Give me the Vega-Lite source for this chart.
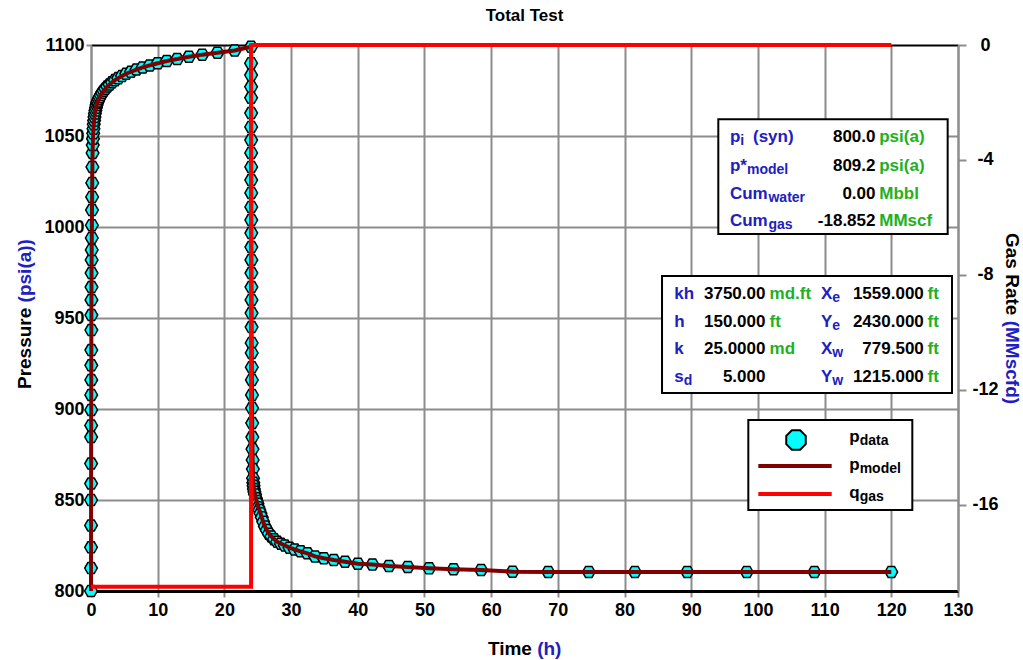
{
  "$schema": "https://vega.github.io/schema/vega-lite/v6.json",
  "width": 867,
  "height": 546,
  "autosize": {"type": "none"},
  "padding": {"left": 91, "top": 45, "right": 65, "bottom": 69},
  "background": "white",
  "title": {"text": "Total Test", "fontSize": 17, "font": "Liberation Sans", "fontWeight": "bold", "color": "black", "anchor": "middle", "frame": "group", "offset": 11},
  "config": {"font": "Liberation Sans", "view": {"stroke": null}},
  "datasets": {
    "pressure": [
      {"t": 0, "p": 800}, {"t": 0.003, "p": 812.6}, {"t": 0.006, "p": 824}, {"t": 0.009, "p": 836}, {"t": 0.012, "p": 850},
      {"t": 0.015, "p": 859}, {"t": 0.018, "p": 870}, {"t": 0.022, "p": 884.6}, {"t": 0.026, "p": 891}, {"t": 0.03, "p": 899.5},
      {"t": 0.034, "p": 907.7}, {"t": 0.038, "p": 916}, {"t": 0.043, "p": 924}, {"t": 0.048, "p": 932.4}, {"t": 0.054, "p": 943.4},
      {"t": 0.06, "p": 951.6}, {"t": 0.067, "p": 959.9}, {"t": 0.075, "p": 967}, {"t": 0.084, "p": 974.7}, {"t": 0.094, "p": 981.9},
      {"t": 0.105, "p": 987.4}, {"t": 0.118, "p": 994}, {"t": 0.132, "p": 1001}, {"t": 0.148, "p": 1009.3}, {"t": 0.166, "p": 1016.5},
      {"t": 0.186, "p": 1024.2}, {"t": 0.21, "p": 1033}, {"t": 0.235, "p": 1040.7}, {"t": 0.263, "p": 1045}, {"t": 0.295, "p": 1048.5},
      {"t": 0.33, "p": 1051.5}, {"t": 0.37, "p": 1054}, {"t": 0.415, "p": 1056.5}, {"t": 0.465, "p": 1058.5}, {"t": 0.52, "p": 1060.5},
      {"t": 0.585, "p": 1062.3}, {"t": 0.66, "p": 1064}, {"t": 0.74, "p": 1065.5}, {"t": 0.83, "p": 1067}, {"t": 0.93, "p": 1068.3},
      {"t": 1, "p": 1069}, {"t": 1.136, "p": 1070.2}, {"t": 1.29, "p": 1071.3}, {"t": 1.468, "p": 1072.5}, {"t": 1.668, "p": 1073.7},
      {"t": 1.896, "p": 1074.8}, {"t": 2.154, "p": 1076}, {"t": 2.448, "p": 1077.2}, {"t": 2.783, "p": 1078.3}, {"t": 3.162, "p": 1079.5},
      {"t": 3.594, "p": 1080.7}, {"t": 4.084, "p": 1081.8}, {"t": 4.642, "p": 1083}, {"t": 5.275, "p": 1084.2}, {"t": 5.995, "p": 1085.3},
      {"t": 6.813, "p": 1086.5}, {"t": 7.743, "p": 1087.7}, {"t": 8.799, "p": 1088.8}, {"t": 10, "p": 1090}, {"t": 11.36, "p": 1091.2},
      {"t": 12.92, "p": 1092.3}, {"t": 14.68, "p": 1093.5}, {"t": 16.68, "p": 1094.7}, {"t": 18.96, "p": 1095.8}, {"t": 21.54, "p": 1097},
      {"t": 24, "p": 1099},
      {"t": 24.002, "p": 1090}, {"t": 24.004, "p": 1083.5}, {"t": 24.006, "p": 1077}, {"t": 24.008, "p": 1071}, {"t": 24.01, "p": 1062.6},
      {"t": 24.012, "p": 1055}, {"t": 24.014, "p": 1047.8}, {"t": 24.016, "p": 1040.7}, {"t": 24.019, "p": 1033}, {"t": 24.022, "p": 1025.8},
      {"t": 24.025, "p": 1018.7}, {"t": 24.028, "p": 1011}, {"t": 24.032, "p": 1003.8}, {"t": 24.036, "p": 996.7}, {"t": 24.04, "p": 989},
      {"t": 24.045, "p": 981.9}, {"t": 24.05, "p": 974.7}, {"t": 24.056, "p": 967}, {"t": 24.063, "p": 959.9}, {"t": 24.07, "p": 952.7},
      {"t": 24.078, "p": 945}, {"t": 24.087, "p": 936.3}, {"t": 24.097, "p": 930.8}, {"t": 24.108, "p": 923}, {"t": 24.121, "p": 916},
      {"t": 24.135, "p": 907.7}, {"t": 24.151, "p": 900.5}, {"t": 24.169, "p": 892.3}, {"t": 24.189, "p": 884.6}, {"t": 24.212, "p": 878},
      {"t": 24.237, "p": 872}, {"t": 24.266, "p": 867}, {"t": 24.298, "p": 862}, {"t": 24.335, "p": 859.5}, {"t": 24.375, "p": 857.8},
      {"t": 24.42, "p": 856}, {"t": 24.5, "p": 854.5}, {"t": 24.6, "p": 853}, {"t": 24.72, "p": 851}, {"t": 24.84, "p": 849.5},
      {"t": 24.96, "p": 848}, {"t": 25.09, "p": 846}, {"t": 25.24, "p": 844.5}, {"t": 25.41, "p": 842.7}, {"t": 25.6, "p": 840.5},
      {"t": 25.82, "p": 838}, {"t": 26.07, "p": 835.5}, {"t": 26.35, "p": 833.5}, {"t": 26.67, "p": 831.5}, {"t": 27.04, "p": 830},
      {"t": 27.45, "p": 828.5}, {"t": 27.92, "p": 827}, {"t": 28.46, "p": 826}, {"t": 29.06, "p": 825}, {"t": 29.76, "p": 823.8},
      {"t": 30.54, "p": 822.8}, {"t": 31.43, "p": 821.8}, {"t": 32.45, "p": 820.7}, {"t": 33.6, "p": 819}, {"t": 34.91, "p": 818},
      {"t": 36.4, "p": 817}, {"t": 38.09, "p": 816.1}, {"t": 40.01, "p": 815}, {"t": 42.2, "p": 814.6}, {"t": 44.68, "p": 813.8},
      {"t": 47.5, "p": 813.2}, {"t": 50.71, "p": 812.5}, {"t": 54.36, "p": 812}, {"t": 58.5, "p": 811.6}, {"t": 63.21, "p": 810.6},
      {"t": 68.56, "p": 810.5}, {"t": 74.64, "p": 810.5}, {"t": 81.55, "p": 810.5}, {"t": 89.4, "p": 810.5}, {"t": 98.33, "p": 810.5},
      {"t": 108.47, "p": 810.5}, {"t": 120, "p": 810.5}
    ],
    "rate": [
      {"t": 0, "rate": -18.852}, {"t": 24, "rate": -18.852}, {"t": 24, "rate": 0}, {"t": 120, "rate": 0}
    ],
    "notes": [
      {"txt": "p", "t": 95.8, "p": 1049.18, "kind": "lab"},
      {"txt": "i", "t": 97.36, "p": 1049.18, "kind": "labsub"},
      {"txt": "(syn)", "t": 99.26, "p": 1049.18, "kind": "lab"},
      {"txt": "800.0", "t": 117.63, "p": 1049.18, "kind": "val"},
      {"txt": "psi(a)", "t": 118.19, "p": 1049.18, "kind": "unit"},
      {"txt": "p*", "t": 95.8, "p": 1033.63, "kind": "lab"},
      {"txt": "model", "t": 98.36, "p": 1033.63, "kind": "labsub"},
      {"txt": "809.2", "t": 117.63, "p": 1033.63, "kind": "val"},
      {"txt": "psi(a)", "t": 118.19, "p": 1033.63, "kind": "unit"},
      {"txt": "Cum", "t": 95.8, "p": 1018.24, "kind": "lab"},
      {"txt": "water", "t": 101.58, "p": 1018.24, "kind": "labsub"},
      {"txt": "0.00", "t": 117.63, "p": 1018.24, "kind": "val"},
      {"txt": "Mbbl", "t": 118.19, "p": 1018.24, "kind": "unit"},
      {"txt": "Cum", "t": 95.8, "p": 1003.41, "kind": "lab"},
      {"txt": "gas", "t": 101.58, "p": 1003.41, "kind": "labsub"},
      {"txt": "-18.852", "t": 117.63, "p": 1003.41, "kind": "val"},
      {"txt": "MMscf", "t": 118.19, "p": 1003.41, "kind": "unit"},
      {"txt": "kh", "t": 87.46, "p": 963.08, "kind": "lab"},
      {"txt": "3750.00", "t": 101.13, "p": 963.08, "kind": "val"},
      {"txt": "md.ft", "t": 101.74, "p": 963.08, "kind": "unit"},
      {"txt": "X", "t": 109.45, "p": 963.08, "kind": "lab"},
      {"txt": "e", "t": 111.15, "p": 963.08, "kind": "labsub"},
      {"txt": "1559.000", "t": 124.87, "p": 963.08, "kind": "val"},
      {"txt": "ft", "t": 125.44, "p": 963.08, "kind": "unit"},
      {"txt": "h", "t": 87.46, "p": 947.97, "kind": "lab"},
      {"txt": "150.000", "t": 101.13, "p": 947.97, "kind": "val"},
      {"txt": "ft", "t": 101.74, "p": 947.97, "kind": "unit"},
      {"txt": "Y", "t": 109.45, "p": 947.97, "kind": "lab"},
      {"txt": "e", "t": 111.15, "p": 947.97, "kind": "labsub"},
      {"txt": "2430.000", "t": 124.87, "p": 947.97, "kind": "val"},
      {"txt": "ft", "t": 125.44, "p": 947.97, "kind": "unit"},
      {"txt": "k", "t": 87.46, "p": 932.86, "kind": "lab"},
      {"txt": "25.0000", "t": 101.13, "p": 932.86, "kind": "val"},
      {"txt": "md", "t": 101.74, "p": 932.86, "kind": "unit"},
      {"txt": "X", "t": 109.45, "p": 932.86, "kind": "lab"},
      {"txt": "w", "t": 111.15, "p": 932.86, "kind": "labsub"},
      {"txt": "779.500", "t": 124.87, "p": 932.86, "kind": "val"},
      {"txt": "ft", "t": 125.44, "p": 932.86, "kind": "unit"},
      {"txt": "s", "t": 87.46, "p": 917.75, "kind": "lab"},
      {"txt": "d", "t": 88.88, "p": 917.75, "kind": "labsub"},
      {"txt": "5.000", "t": 101.13, "p": 917.75, "kind": "val"},
      {"txt": "Y", "t": 109.45, "p": 917.75, "kind": "lab"},
      {"txt": "w", "t": 111.15, "p": 917.75, "kind": "labsub"},
      {"txt": "1215.000", "t": 124.87, "p": 917.75, "kind": "val"},
      {"txt": "ft", "t": 125.44, "p": 917.75, "kind": "unit"},
      {"txt": "p", "t": 113.69, "p": 884.84, "kind": "leg"},
      {"txt": "data", "t": 115.25, "p": 884.84, "kind": "legsub"},
      {"txt": "p", "t": 113.69, "p": 869.01, "kind": "leg"},
      {"txt": "model", "t": 115.25, "p": 869.01, "kind": "legsub"},
      {"txt": "q", "t": 113.69, "p": 854.0, "kind": "leg"},
      {"txt": "gas", "t": 115.25, "p": 854.0, "kind": "legsub"},
      {"txt": "Time", "t": 66.11, "p": 768.13, "kind": "xt"},
      {"txt": "(h)", "t": 66.9, "p": 768.13, "kind": "xtb"},
      {"txt": "Pressure", "t": -9.9, "p": 955.66, "kind": "yt"},
      {"txt": "(psi(a))", "t": -9.9, "p": 958.57, "kind": "ytb"},
      {"txt": "Gas Rate", "t": 138.1, "p": 951.43, "kind": "rt"},
      {"txt": "(MMscfd)", "t": 138.1, "p": 948.52, "kind": "rtb"}
    ]
  },
  "layer": [
    {
      "layer": [
        {
          "data": {"name": "pressure"},
          "mark": {"type": "point", "shape": "M-0.5,-0.87L0.5,-0.87L1,0L0.5,0.87L-0.5,0.87L-1,0Z", "size": 160, "filled": true, "fill": "#00ffff", "stroke": "black", "strokeWidth": 1.5, "opacity": 1},
          "encoding": {
            "x": {"field": "t", "type": "quantitative", "scale": {"domain": [0, 130], "nice": false, "zero": false},
              "axis": {"title": null, "format": "d", "values": [0, 10, 20, 30, 40, 50, 60, 70, 80, 90, 100, 110, 120, 130], "grid": true, "gridColor": "#8c8c8c", "gridWidth": 2, "domainColor": "black", "domainWidth": 3, "tickColor": "#8c8c8c", "tickWidth": 2, "tickSize": 6, "labelPadding": 4, "labelFont": "Liberation Sans", "labelFontSize": 18, "labelFontWeight": "bold", "labelColor": "black", "labelFlush": false, "labelOverlap": false}},
            "y": {"field": "p", "type": "quantitative", "scale": {"domain": [800, 1100], "nice": false, "zero": false},
              "axis": {"title": null, "format": "d", "values": [800, 850, 900, 950, 1000, 1050, 1100], "grid": true, "gridColor": {"condition": {"test": "datum.value === 1100", "value": "black"}, "value": "#8c8c8c"}, "gridWidth": 2, "domainColor": "#8c8c8c", "domainWidth": 2, "tickColor": "#8c8c8c", "tickWidth": 2, "tickSize": 5, "labelPadding": 2, "labelFont": "Liberation Sans", "labelFontSize": 18, "labelFontWeight": "bold", "labelColor": "black", "labelFlush": false, "labelOverlap": false}}
          }
        },
        {
          "data": {"name": "pressure"},
          "mark": {"type": "line", "color": "#800000", "strokeWidth": 4},
          "encoding": {
            "x": {"field": "t", "type": "quantitative"},
            "y": {"field": "p", "type": "quantitative"},
            "order": {"value": null}
          }
        },
        {
          "data": {"values": [{}]},
          "mark": {"type": "rect", "fill": "white", "stroke": "black", "strokeWidth": 2},
          "encoding": {
            "x": {"datum": 94.06, "type": "quantitative"}, "x2": {"datum": 128.45},
            "y": {"datum": 1059.18, "type": "quantitative"}, "y2": {"datum": 996.15}
          }
        },
        {
          "data": {"values": [{}]},
          "mark": {"type": "rect", "fill": "white", "stroke": "black", "strokeWidth": 2},
          "encoding": {
            "x": {"datum": 85.62, "type": "quantitative"}, "x2": {"datum": 129.1},
            "y": {"datum": 973.08, "type": "quantitative"}, "y2": {"datum": 908.79}
          }
        },
        {
          "data": {"values": [{}]},
          "mark": {"type": "rect", "fill": "white", "stroke": "black", "strokeWidth": 2},
          "encoding": {
            "x": {"datum": 98.56, "type": "quantitative"}, "x2": {"datum": 123.15},
            "y": {"datum": 893.96, "type": "quantitative"}, "y2": {"datum": 844.51}
          }
        },
        {
          "data": {"values": [{}]},
          "mark": {"type": "point", "shape": "M-0.42,-1L0.42,-1L1,-0.42L1,0.42L0.42,1L-0.42,1L-1,0.42L-1,-0.42Z", "size": 380, "filled": true, "fill": "#00ffff", "stroke": "black", "strokeWidth": 2, "opacity": 1},
          "encoding": {"x": {"datum": 105.71, "type": "quantitative"}, "y": {"datum": 882.97, "type": "quantitative"}}
        },
        {
          "data": {"values": [{}]},
          "mark": {"type": "rule", "color": "#800000", "strokeWidth": 4},
          "encoding": {"x": {"datum": 100.06, "type": "quantitative"}, "x2": {"datum": 111.06}, "y": {"datum": 868.68, "type": "quantitative"}}
        },
        {
          "data": {"values": [{}]},
          "mark": {"type": "rule", "color": "#ff0000", "strokeWidth": 4},
          "encoding": {"x": {"datum": 100.06, "type": "quantitative"}, "x2": {"datum": 111.06}, "y": {"datum": 853.3, "type": "quantitative"}}
        },
        {
          "data": {"name": "notes"},
          "transform": [{"filter": "datum.kind === 'lab'"}],
          "mark": {"type": "text", "align": "left", "baseline": "middle", "font": "Liberation Sans", "fontWeight": "bold", "fontSize": 17, "color": "#2020c0"},
          "encoding": {"x": {"field": "t", "type": "quantitative"}, "y": {"field": "p", "type": "quantitative"}, "text": {"field": "txt"}}
        },
        {
          "data": {"name": "notes"},
          "transform": [{"filter": "datum.kind === 'labsub'"}],
          "mark": {"type": "text", "align": "left", "baseline": "middle", "dy": 4, "font": "Liberation Sans", "fontWeight": "bold", "fontSize": 14, "color": "#2020c0"},
          "encoding": {"x": {"field": "t", "type": "quantitative"}, "y": {"field": "p", "type": "quantitative"}, "text": {"field": "txt"}}
        },
        {
          "data": {"name": "notes"},
          "transform": [{"filter": "datum.kind === 'val'"}],
          "mark": {"type": "text", "align": "right", "baseline": "middle", "font": "Liberation Sans", "fontWeight": "bold", "fontSize": 17, "color": "black"},
          "encoding": {"x": {"field": "t", "type": "quantitative"}, "y": {"field": "p", "type": "quantitative"}, "text": {"field": "txt"}}
        },
        {
          "data": {"name": "notes"},
          "transform": [{"filter": "datum.kind === 'unit'"}],
          "mark": {"type": "text", "align": "left", "baseline": "middle", "font": "Liberation Sans", "fontWeight": "bold", "fontSize": 17, "color": "#22b022"},
          "encoding": {"x": {"field": "t", "type": "quantitative"}, "y": {"field": "p", "type": "quantitative"}, "text": {"field": "txt"}}
        },
        {
          "data": {"name": "notes"},
          "transform": [{"filter": "datum.kind === 'leg'"}],
          "mark": {"type": "text", "align": "left", "baseline": "middle", "font": "Liberation Sans", "fontWeight": "bold", "fontSize": 17, "color": "black"},
          "encoding": {"x": {"field": "t", "type": "quantitative"}, "y": {"field": "p", "type": "quantitative"}, "text": {"field": "txt"}}
        },
        {
          "data": {"name": "notes"},
          "transform": [{"filter": "datum.kind === 'legsub'"}],
          "mark": {"type": "text", "align": "left", "baseline": "middle", "dy": 4, "font": "Liberation Sans", "fontWeight": "bold", "fontSize": 14, "color": "black"},
          "encoding": {"x": {"field": "t", "type": "quantitative"}, "y": {"field": "p", "type": "quantitative"}, "text": {"field": "txt"}}
        },
        {
          "data": {"name": "notes"},
          "transform": [{"filter": "datum.kind === 'xt'"}],
          "mark": {"type": "text", "align": "right", "baseline": "middle", "font": "Liberation Sans", "fontWeight": "bold", "fontSize": 19, "color": "black"},
          "encoding": {"x": {"field": "t", "type": "quantitative"}, "y": {"field": "p", "type": "quantitative"}, "text": {"field": "txt"}}
        },
        {
          "data": {"name": "notes"},
          "transform": [{"filter": "datum.kind === 'xtb'"}],
          "mark": {"type": "text", "align": "left", "baseline": "middle", "font": "Liberation Sans", "fontWeight": "bold", "fontSize": 19, "color": "#2020c0"},
          "encoding": {"x": {"field": "t", "type": "quantitative"}, "y": {"field": "p", "type": "quantitative"}, "text": {"field": "txt"}}
        },
        {
          "data": {"name": "notes"},
          "transform": [{"filter": "datum.kind === 'yt'"}],
          "mark": {"type": "text", "align": "right", "baseline": "middle", "angle": 270, "font": "Liberation Sans", "fontWeight": "bold", "fontSize": 19, "color": "black"},
          "encoding": {"x": {"field": "t", "type": "quantitative"}, "y": {"field": "p", "type": "quantitative"}, "text": {"field": "txt"}}
        },
        {
          "data": {"name": "notes"},
          "transform": [{"filter": "datum.kind === 'ytb'"}],
          "mark": {"type": "text", "align": "left", "baseline": "middle", "angle": 270, "font": "Liberation Sans", "fontWeight": "bold", "fontSize": 19, "color": "#2020c0"},
          "encoding": {"x": {"field": "t", "type": "quantitative"}, "y": {"field": "p", "type": "quantitative"}, "text": {"field": "txt"}}
        },
        {
          "data": {"name": "notes"},
          "transform": [{"filter": "datum.kind === 'rt'"}],
          "mark": {"type": "text", "align": "right", "baseline": "middle", "angle": 90, "font": "Liberation Sans", "fontWeight": "bold", "fontSize": 19, "color": "black"},
          "encoding": {"x": {"field": "t", "type": "quantitative"}, "y": {"field": "p", "type": "quantitative"}, "text": {"field": "txt"}}
        },
        {
          "data": {"name": "notes"},
          "transform": [{"filter": "datum.kind === 'rtb'"}],
          "mark": {"type": "text", "align": "left", "baseline": "middle", "angle": 90, "font": "Liberation Sans", "fontWeight": "bold", "fontSize": 19, "color": "#2020c0"},
          "encoding": {"x": {"field": "t", "type": "quantitative"}, "y": {"field": "p", "type": "quantitative"}, "text": {"field": "txt"}}
        }
      ]
    },
    {
      "data": {"name": "rate"},
      "mark": {"type": "line", "color": "#ff0000", "strokeWidth": 4},
      "encoding": {
        "x": {"field": "t", "type": "quantitative"},
        "y": {"field": "rate", "type": "quantitative", "scale": {"domain": [-19, 0], "nice": false, "zero": false},
          "axis": {"orient": "right", "title": null, "values": [0, -4, -8, -12, -16], "labelExpr": "'' + datum.value", "grid": false, "domainColor": "#8c8c8c", "domainWidth": 2, "tickColor": "#8c8c8c", "tickWidth": 2, "tickSize": 8, "labelAlign": "center", "labelPadding": 19, "labelFont": "Liberation Sans", "labelFontSize": 18, "labelFontWeight": "bold", "labelColor": "black", "labelFlush": false, "labelOverlap": false}},
        "order": {"value": null}
      }
    }
  ],
  "resolve": {"scale": {"y": "independent"}}
}
